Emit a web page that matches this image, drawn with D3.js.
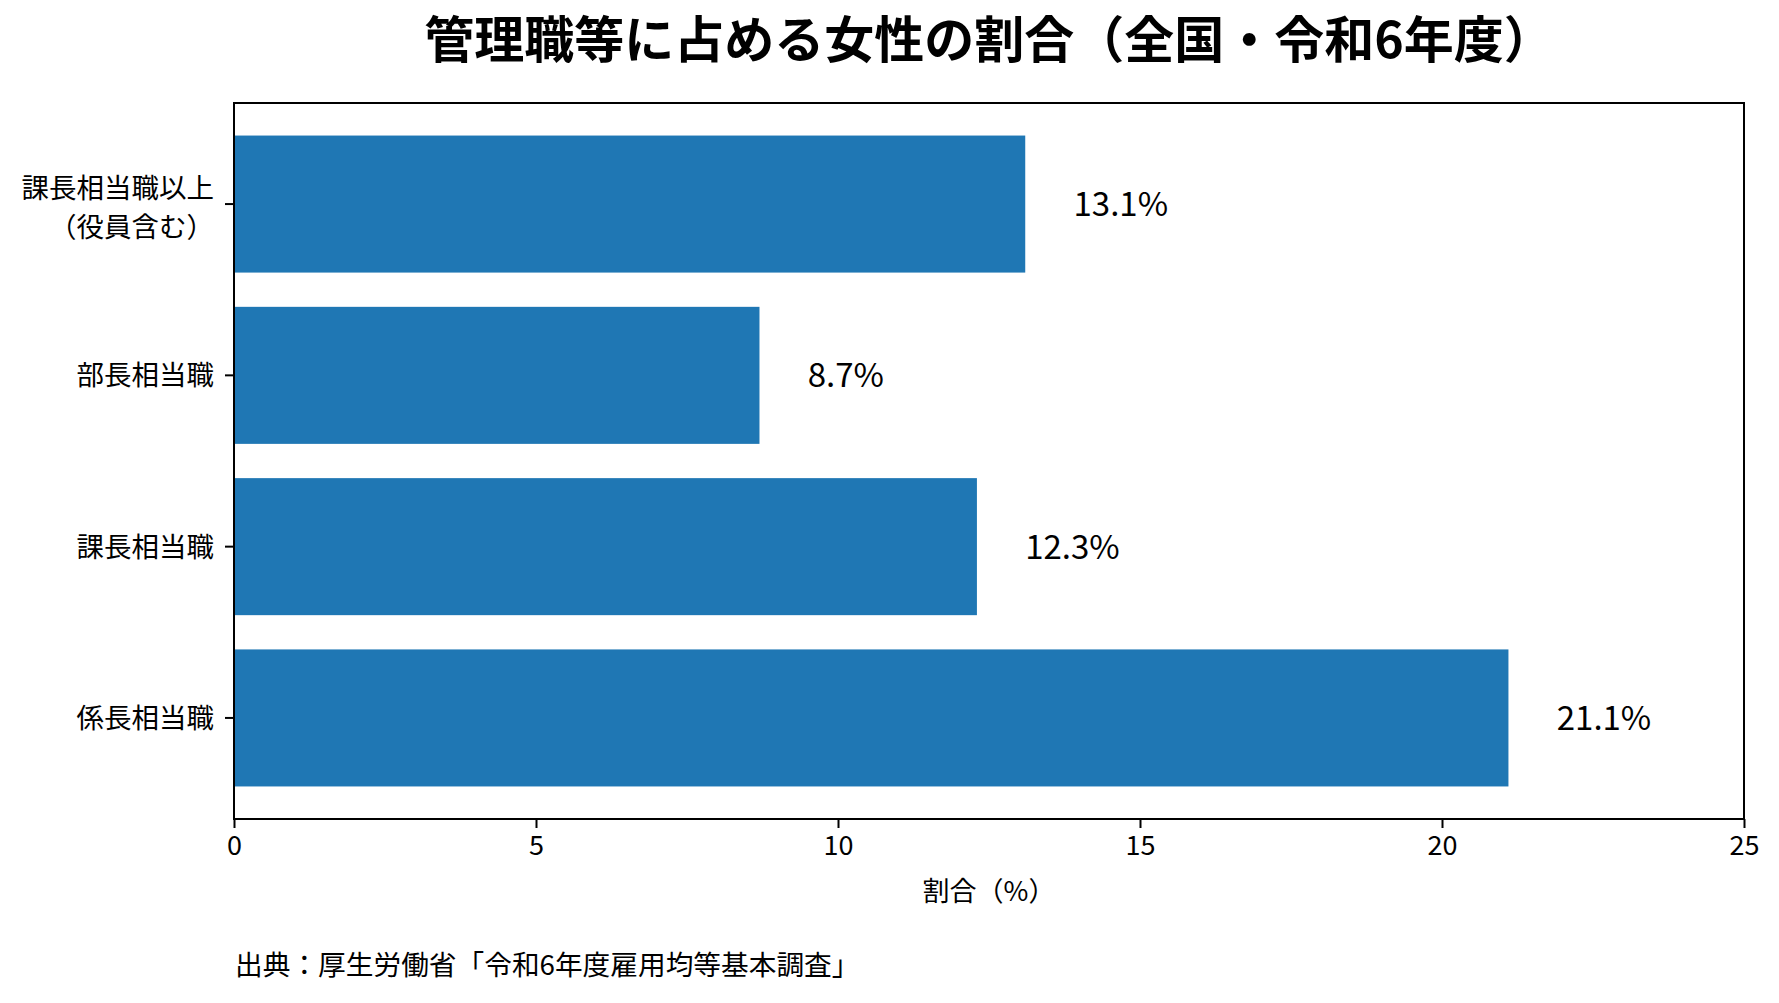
<!DOCTYPE html>
<html>
  <head>
    <meta charset="utf-8" />
    <title>管理職等に占める女性の割合</title>
    <style>
      body {
        margin: 0;
        background: #fff;
      }
      text {
        font-family: 'Noto Sans CJK JP', 'Noto Sans', sans-serif;
        fill: #000;
      }
      .tick line {
        stroke: #000;
        stroke-width: 2px;
      }
    </style>
    <script src="https://d3js.org/d3.v7.min.js"></script>
  </head>
  <body>
    <svg width="1779" height="1003"></svg>
    <script>
      // データ
      var categories = ['課長相当職以上\n（役員含む）', '部長相当職', '課長相当職', '係長相当職']
      var values = [13.1, 8.7, 12.3, 21.1]
      var xTicks = [0, 5, 10, 15, 20, 25]

      var svg = d3.select('svg')
      var margin = { left: 234, right: 35, top: 103, bottom: 184 }
      var width = 1779 - margin.left - margin.right
      var height = 1003 - margin.top - margin.bottom

      // タイトル
      svg
        .append('text')
        .attr('x', margin.left + width / 2)
        .attr('y', 58)
        .attr('text-anchor', 'middle')
        .style('font-size', '50px')
        .style('font-weight', 'bold')
        .text('管理職等に占める女性の割合（全国・令和6年度）')

      var g = svg.append('g').attr('transform', 'translate(' + margin.left + ',' + margin.top + ')')

      var x = d3.scaleLinear().domain([0, 25]).range([0, width])
      var y = d3
        .scaleBand()
        .domain(categories)
        .range([0, height])
        .paddingInner(0.2)
        .paddingOuter(0.19)

      // 棒
      g.selectAll('.bar')
        .data(values)
        .enter()
        .append('rect')
        .attr('class', 'bar')
        .attr('x', x(0))
        .attr('y', function (d, i) {
          return y(categories[i])
        })
        .attr('width', function (d) {
          return x(d) - x(0)
        })
        .attr('height', y.bandwidth())
        .style('fill', '#1f77b4')

      // 値ラベル
      g.selectAll('.value')
        .data(values)
        .enter()
        .append('text')
        .attr('class', 'value')
        .attr('x', function (d) {
          return x(d + 0.8)
        })
        .attr('y', function (d, i) {
          return y(categories[i]) + y.bandwidth() / 2
        })
        .attr('dy', '0.36em')
        .style('font-size', '33px')
        .text(function (d) {
          return d.toFixed(1) + '%'
        })

      // X軸
      var xAxis = g
        .append('g')
        .attr('transform', 'translate(0,' + height + ')')
        .call(d3.axisBottom(x).tickValues(xTicks).tickSize(9).tickSizeOuter(0).tickPadding(8))
      xAxis.select('.domain').remove()
      xAxis.selectAll('text').style('font-size', '27px').attr('font-family', null)

      // Y軸
      var yAxis = g.append('g').call(d3.axisLeft(y).tickSize(9).tickSizeOuter(0).tickFormat(''))
      yAxis.select('.domain').remove()
      yAxis.selectAll('.tick').each(function (d) {
        var lines = d.split('\n')
        var t = d3
          .select(this)
          .append('text')
          .attr('x', -20)
          .attr('text-anchor', 'end')
          .style('font-size', '27.5px')
        lines.forEach(function (s, i) {
          t.append('tspan')
            .attr('x', -20)
            .attr('y', lines.length > 1 ? (i === 0 ? -16 : 23) : 0)
            .attr('dy', '0.36em')
            .text(s)
        })
      })

      // 枠
      g.append('rect')
        .attr('width', width)
        .attr('height', height)
        .style('fill', 'none')
        .style('stroke', '#000')
        .style('stroke-width', '2px')

      // 軸ラベル
      g.append('text')
        .attr('x', width / 2)
        .attr('y', height + 82)
        .attr('text-anchor', 'middle')
        .style('font-size', '27px')
        .text('割合（%）')

      // 出典
      svg
        .append('text')
        .attr('x', 235)
        .attr('y', 975)
        .style('font-size', '27.7px')
        .text('出典：厚生労働省「令和6年度雇用均等基本調査」')
    </script>
  </body>
</html>
